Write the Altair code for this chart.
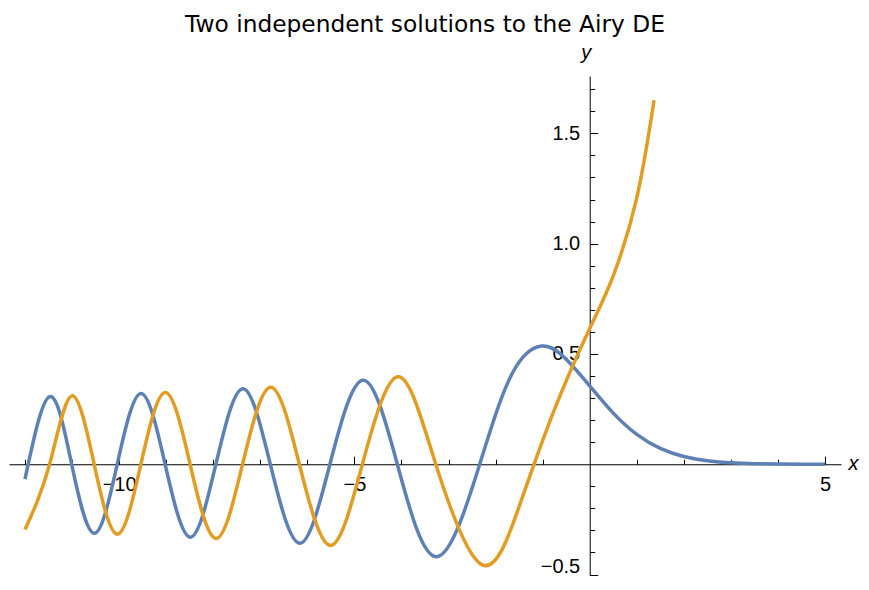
import altair as alt
import pandas as pd

# ---- data (Airy Ai = blue, Airy Bi = orange) ----
AI_X = [-12.0, -11.475, -11.0085, -10.5277, -10.0402, -9.5355, -9.0227,
        -8.4885, -7.9441, -7.3722, -6.7867, -6.1633, -5.5206, -4.8201, -4.0880,
        -3.2482, -2.3381, -1.65, -1.0188, -0.5, 0.0, 0.5, 1.0, 1.5,
        2.0, 2.5, 3.0, 3.5, 4.0, 4.5, 5.0]
AI_Y = [-0.067, 0.3065, 0.0, -0.3132, 0.0, 0.3210, 0.0,
        -0.3305, 0.0, 0.3423, 0.0, -0.3579, 0.0, 0.3804, 0.0,
        -0.4190, 0.0, 0.4101, 0.5357, 0.4757, 0.3550, 0.2317, 0.1353, 0.0718,
        0.0349, 0.0157, 0.0066, 0.0026, 0.0010, 0.0003, 0.0001]

BI_X = [-12.0, -11.4770, -11.0064, -10.5299, -10.0377, -9.5382, -9.0196,
        -8.4920, -7.9402, -7.3768, -6.7813, -6.1699, -5.5124, -4.8307, -4.0732,
        -3.2711, -2.2944, -1.5, -0.75, 0.0, 0.5, 1.0, 1.367]
BI_Y = [-0.296, 0.0, 0.3099, 0.0, -0.3170, 0.0, 0.3256,
        0.0, -0.3360, 0.0, 0.3495, 0.0, -0.3680, 0.0, 0.3965,
        0.0, -0.4549, -0.1918, 0.2478, 0.6149, 0.8543, 1.2074, 1.65]

SERIES = ["Ai", "Bi"]
COLORS = ["#5E81B5", "#E19C24"]

X_MAJOR = [-10, -5, 5]
X_MINOR = [-12, -11, -9, -8, -7, -6, -4, -3, -2, -1, 1, 2, 3, 4]
Y_MAJOR = [-0.5, 0.5, 1.0, 1.5]
Y_MINOR = [-0.4, -0.3, -0.2, -0.1, 0.1, 0.2, 0.3, 0.4, 0.6, 0.7, 0.8, 0.9,
           1.1, 1.2, 1.3, 1.4, 1.6, 1.7]

TITLE = "Two independent solutions to the Airy DE"

# ---- layout ----
XMIN, XMAX = -12.34, 5.34
W = 832
PPU_Y = 220.6
YMAX = 1.76
H = 500
YMIN = YMAX - H / PPU_Y
X_AXIS_OFF = -(YMAX / (YMAX - YMIN)) * H          # x axis at y = 0
Y_AXIS_OFF = (-XMIN / (XMAX - XMIN)) * W - W      # y axis at x = 0

df = pd.concat([
    pd.DataFrame({"x": AI_X, "y": AI_Y, "series": SERIES[0]}),
    pd.DataFrame({"x": BI_X, "y": BI_Y, "series": SERIES[1]}),
], ignore_index=True)

xs = alt.Scale(domain=[XMIN, XMAX], nice=False, zero=False)
ys = alt.Scale(domain=[YMIN, YMAX], nice=False, zero=False)

common = dict(grid=False, domainColor="black", tickColor="black", tickWidth=1,
              domainWidth=1, labelColor="black", labelFont="Liberation Sans",
              labelFontSize=20, labelFlush=False, labelOverlap=False, labelBound=False,
              titleFont="Liberation Sans", titleFontSize=20, titleFontStyle="italic",
              titleFontWeight="normal", titleColor="black", titleAngle=0,
              titleAlign="center", titleBaseline="middle")

x_major = alt.Axis(orient="top", offset=X_AXIS_OFF, values=X_MAJOR, format="d",
                   tickSize=8, labelPadding=-18, labelBaseline="top", labelAlign="center",
                   title="x", titleX=844, titleY=-1, **common)
y_major = alt.Axis(orient="right", offset=Y_AXIS_OFF, values=Y_MAJOR, format=".1f",
                   tickSize=8, labelPadding=-18, labelAlign="right", labelBaseline="middle",
                   labelOffset={"condition": {"test": "datum.value < 0", "value": -8}, "value": 0},
                   title="y", titleX=-4, titleY=-24, **common)
x_minor = alt.Axis(orient="top", offset=X_AXIS_OFF, values=X_MINOR, tickSize=5,
                   labels=False, domain=False, title=None, grid=False,
                   tickColor="black", tickWidth=1)
y_minor = alt.Axis(orient="right", offset=Y_AXIS_OFF, values=Y_MINOR, tickSize=5,
                   labels=False, domain=False, title=None, grid=False,
                   tickColor="black", tickWidth=1)

minor = alt.Chart(df).mark_line(opacity=0).encode(
    x=alt.X("x:Q", scale=xs, axis=x_minor),
    y=alt.Y("y:Q", scale=ys, axis=y_minor),
    detail="series:N",
)

lines = alt.Chart(df).mark_line(strokeWidth=3.5, interpolate="natural").encode(
    x=alt.X("x:Q", scale=xs, axis=x_major),
    y=alt.Y("y:Q", scale=ys, axis=y_major),
    color=alt.Color("series:N", scale=alt.Scale(domain=SERIES, range=COLORS), legend=None),
)

chart = alt.layer(minor, lines).resolve_axis(
    x="independent", y="independent"
).properties(
    width=W,
    height=H,
    background="white",
    padding={"left": 1, "top": 68, "right": 19, "bottom": 0},
    autosize=alt.AutoSizeParams(type="none"),
    title=alt.TitleParams(TITLE, font="DejaVu Sans", fontSize=23.3, fontWeight="normal",
                          color="black", anchor="middle", frame="group", offset=5),
).configure_view(stroke="transparent", strokeWidth=0)

chart.save("out.html", embed_options={"renderer": "svg", "actions": False})
